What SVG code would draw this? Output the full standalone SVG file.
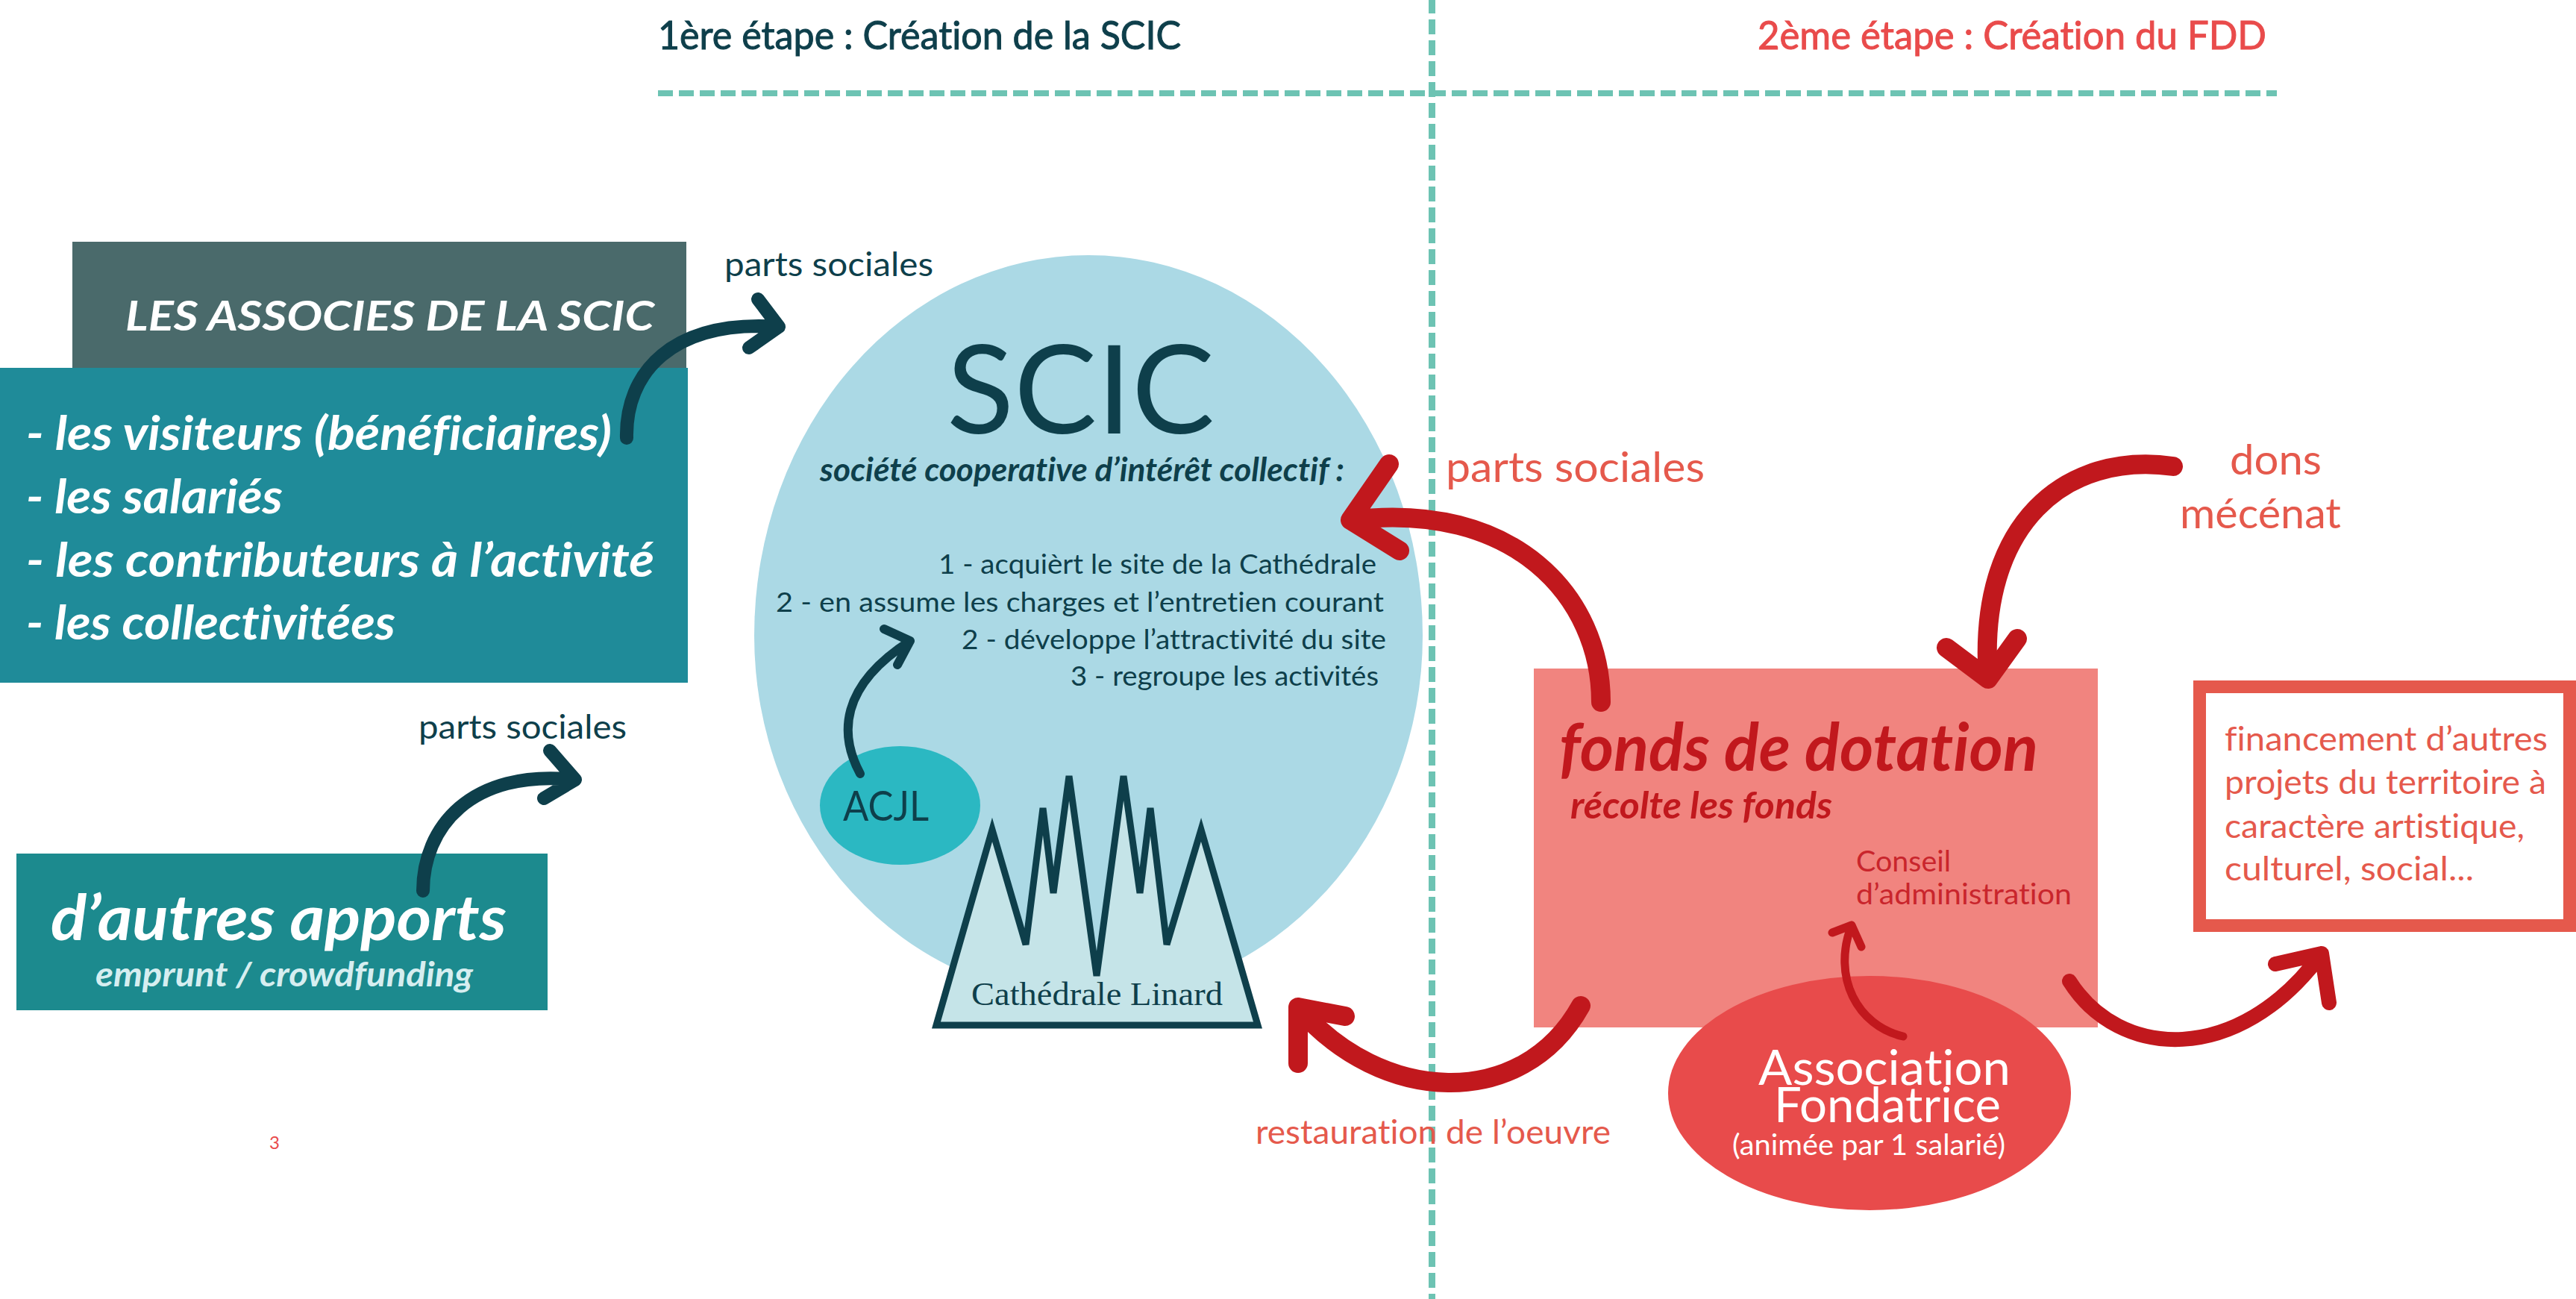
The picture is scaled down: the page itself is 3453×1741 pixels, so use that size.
<svg xmlns="http://www.w3.org/2000/svg" width="3453" height="1741" viewBox="0 0 3453 1741">
<style>
text{font-family:"Lato","Open Sans","Liberation Sans",sans-serif;font-variant-ligatures:none}
.d{fill:#0e3f4b}.r{fill:#e5594c}.w{fill:#fff}.dr{fill:#c1181d}
.bi{font-weight:700;font-style:italic}
.hd{stroke-width:1}
.dash{stroke:#6dc3b3;fill:none;stroke-dasharray:20 8}
.ad,.ar{fill:none;stroke-linecap:round;stroke-linejoin:round}
.ad{stroke:#0e3f4b}.ar{stroke:#c1181d}
</style>
<rect width="3453" height="1741" fill="#fff"/>
<g id="guides">
<path class="dash" stroke-width="9" d="M1919.500 -2V1741"/>
<path class="dash" stroke-width="8" d="M882 125H3052"/>
</g>
<g id="header">
<text x="882" y="66" font-size="52" class="d hd" stroke="#0e3f4b" textLength="701" lengthAdjust="spacingAndGlyphs">1ère étape : Création de la SCIC</text>
<text x="2356" y="66" font-size="52" class="hd" fill="#e94b4b" stroke="#e94b4b" textLength="682" lengthAdjust="spacingAndGlyphs">2ème étape : Création du FDD</text>
</g>
<g id="associes-title">
<rect x="97" y="324" width="823" height="169" fill="#4a6a6b"/>
<text x="168" y="443" font-size="56" class="w bi" textLength="709" lengthAdjust="spacingAndGlyphs">LES ASSOCIES DE LA SCIC</text>
</g>
<g id="associes-list">
<rect x="0" y="493" width="922" height="422" fill="#1f8b99"/>
<text x="35" y="603" font-size="64" class="w bi" textLength="785" lengthAdjust="spacingAndGlyphs">- les visiteurs (bénéficiaires)</text>
<text x="35" y="688" font-size="64" class="w bi" textLength="344" lengthAdjust="spacingAndGlyphs">- les salariés</text>
<text x="35" y="773" font-size="64" class="w bi" textLength="842" lengthAdjust="spacingAndGlyphs">- les contributeurs à l’activité</text>
<text x="35" y="857" font-size="64" class="w bi" textLength="495" lengthAdjust="spacingAndGlyphs">- les collectivitées</text>
</g>
<g id="autres-apports">
<rect x="22" y="1144" width="712" height="210" fill="#1c8a8e"/>
<text x="68" y="1260" font-size="84" class="w bi" textLength="611" lengthAdjust="spacingAndGlyphs">d’autres apports</text>
<text x="128" y="1322" font-size="46" fill="#d6eef0" class="bi" textLength="506" lengthAdjust="spacingAndGlyphs">emprunt / crowdfunding</text>
</g>
<g id="page-number"><text x="361" y="1540" font-size="24" fill="#e94b4b">3</text></g>
<g id="scic">
<path d="M1011 852A448 510 0 0 1 1907 852A448 487 0 0 1 1011 852Z" fill="#abd9e5"/>
<text x="1269" y="581" font-size="164" class="d" textLength="359" lengthAdjust="spacingAndGlyphs">SCIC</text>
<text x="1099" y="645" font-size="44" class="d bi" textLength="703" lengthAdjust="spacingAndGlyphs">société cooperative d’intérêt collectif :</text>
<text x="1258" y="769" font-size="37" class="d" textLength="587" lengthAdjust="spacingAndGlyphs">1 - acquièrt le site de la Cathédrale</text>
<text x="1040" y="820" font-size="37" class="d" textLength="815" lengthAdjust="spacingAndGlyphs">2 - en assume les charges et l’entretien courant</text>
<text x="1289" y="870" font-size="37" class="d" textLength="569" lengthAdjust="spacingAndGlyphs">2 - développe l’attractivité du site</text>
<text x="1435" y="919" font-size="37" class="d" textLength="413" lengthAdjust="spacingAndGlyphs">3 - regroupe les activités</text>
</g>
<g id="acjl">
<ellipse cx="1206.500" cy="1079.500" rx="107.500" ry="79.500" fill="#2bb8c2"/>
<text x="1130" y="1100" font-size="56" class="d" textLength="115" lengthAdjust="spacingAndGlyphs">ACJL</text>
</g>
<g id="cathedrale">
<path d="M1255 1374L1330 1112L1375 1266L1398 1083L1412 1197L1433 1040L1470 1308L1506 1040L1528 1197L1542 1083L1564 1266L1610 1112L1686 1374Z" fill="#c5e4e8" stroke="#0e3f4b" stroke-width="9"/>
<text x="1302" y="1347" font-size="44" class="d" style="font-family:'Liberation Serif',serif" textLength="337" lengthAdjust="spacingAndGlyphs">Cathédrale Linard</text>
</g>
<g id="fonds">
<rect x="2056" y="896" width="756" height="481" fill="#f1847f"/>
<text x="2090" y="1033" font-size="88" class="dr bi" textLength="642" lengthAdjust="spacingAndGlyphs">fonds de dotation</text>
<text x="2105" y="1097" font-size="50" class="dr bi" textLength="351" lengthAdjust="spacingAndGlyphs">récolte les fonds</text>
<text x="2488" y="1168" font-size="38" fill="#c9252c" textLength="127" lengthAdjust="spacingAndGlyphs">Conseil</text>
<text x="2488" y="1212" font-size="38" fill="#c9252c" textLength="289" lengthAdjust="spacingAndGlyphs">d’administration</text>
</g>
<g id="association">
<ellipse cx="2506" cy="1465" rx="270" ry="157" fill="#e84b4b"/>
<text x="2357" y="1454" font-size="66" class="w" textLength="338" lengthAdjust="spacingAndGlyphs">Association</text>
<text x="2378" y="1504" font-size="66" class="w" textLength="304" lengthAdjust="spacingAndGlyphs">Fondatrice</text>
<text x="2322" y="1548" font-size="38" class="w" textLength="366" lengthAdjust="spacingAndGlyphs">(animée par 1 salarié)</text>
</g>
<g id="financement">
<rect x="2948.500" y="920.500" width="496" height="320" fill="#fff" stroke="#e5594c" stroke-width="17"/>
<text x="2982" y="1006" font-size="44" class="r" textLength="433" lengthAdjust="spacingAndGlyphs">financement d’autres</text>
<text x="2982" y="1064" font-size="44" class="r" textLength="431" lengthAdjust="spacingAndGlyphs">projets du territoire à</text>
<text x="2982" y="1123" font-size="44" class="r" textLength="402" lengthAdjust="spacingAndGlyphs">caractère artistique,</text>
<text x="2982" y="1180" font-size="44" class="r" textLength="334" lengthAdjust="spacingAndGlyphs">culturel, social...</text>
</g>
<g id="labels">
<text x="971" y="370" font-size="44" class="d" textLength="280" lengthAdjust="spacingAndGlyphs">parts sociales</text>
<text x="561" y="990" font-size="44" class="d" textLength="279" lengthAdjust="spacingAndGlyphs">parts sociales</text>
<text x="1938" y="646" font-size="56" class="r" textLength="347" lengthAdjust="spacingAndGlyphs">parts sociales</text>
<text x="2989" y="636" font-size="56" class="r" textLength="123" lengthAdjust="spacingAndGlyphs">dons</text>
<text x="2922" y="708" font-size="56" class="r" textLength="216" lengthAdjust="spacingAndGlyphs">mécénat</text>
<text x="1683" y="1533" font-size="44" class="r" textLength="476" lengthAdjust="spacingAndGlyphs">restauration de l’oeuvre</text>
</g>
<g id="connectors">
<g class="ad" stroke-width="18">
<path d="M840 587C838 500 900 428 1044 438M1016 401L1044 438L1004 466"/>
<path d="M567 1194C567 1110 630 1030 771 1045M737 1006L771 1045L729 1070"/>
</g>
<path class="ad" stroke-width="12" d="M1153 1037C1125 985 1125 920 1220 859M1185 843L1220 859L1203 891"/>
<g class="ar" stroke-width="26">
<path d="M2146 941C2146 800 2030 670 1810 697M1862 622L1810 697L1876 738"/>
<path d="M2913 625C2770 605 2650 700 2665 910M2609 868L2665 910L2704 856"/>
<path d="M2119 1348C2040 1490 1850 1480 1740 1350M1803 1362L1740 1350L1740 1425"/>
</g>
<path class="ar" stroke-width="20" d="M2774 1315C2840 1420 3000 1430 3112 1278M3050 1292L3112 1278L3122 1344"/>
<path class="ar" stroke-width="11" d="M2551 1389C2490 1375 2455 1310 2482 1240M2456 1250L2482 1240L2495 1269"/>
</g>
</svg>
